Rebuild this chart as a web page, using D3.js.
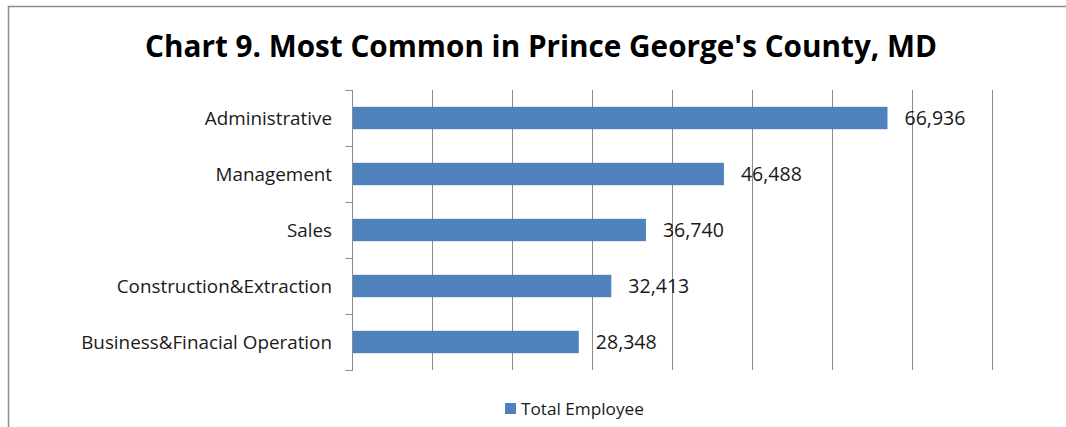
<!DOCTYPE html>
<html><head><meta charset="utf-8">
<script src="https://cdn.jsdelivr.net/npm/d3@7"></script>
<style>body{margin:0;background:#fff;} svg{display:block;font-family:"Open Sans",Lato,sans-serif;}</style>
</head><body>
<svg id="c" width="1066" height="427"></svg>
<script>
const categories = ["Administrative","Management","Sales","Construction&Extraction","Business&Finacial Operation"];
const values = [66936, 46488, 36740, 32413, 28348];
const xTicks = [0,10000,20000,30000,40000,50000,60000,70000,80000];
const seriesName = "Total Employee";
const title = "Chart 9. Most Common in Prince George's County, MD";

const svg = d3.select("#c");
// fit font size of a text node to a target width
function fit(sel, target){
  const n = sel.node(); const fs = parseFloat(sel.attr("font-size"));
  const w = n.getComputedTextLength();
  sel.attr("font-size", (fs*target/w).toFixed(2));
}

svg.append("path").attr("d","M8.5,427 L8.5,6.5 L1066,6.5").attr("fill","none").attr("stroke","#8c8c8c").attr("stroke-width",1.5);

const t = svg.append("text").attr("x",541).attr("y",57).attr("text-anchor","middle")
  .attr("font-size",29).attr("font-weight","bold").attr("fill","#000").text(title);
fit(t, 792);

const x = d3.scaleLinear().domain([0,80000]).range([352,992]);
const y = d3.scaleBand().domain(categories).range([90,370]).paddingInner(0.6).paddingOuter(0.3);

svg.append("g").selectAll("line").data(xTicks.slice(1)).join("line")
  .attr("x1",d=>Math.round(x(d))+0.5).attr("x2",d=>Math.round(x(d))+0.5)
  .attr("y1",90).attr("y2",370).attr("stroke","#8c8c8c").attr("stroke-width",1);

const yAxis = d3.axisLeft(d3.scaleLinear().domain([0,5]).range([90,370])).ticks(5).tickSize(7).tickFormat("");
const ga = svg.append("g").attr("transform","translate(352.5,0)").call(yAxis);
ga.selectAll("path,line").attr("stroke","#8c8c8c");
ga.select(".domain").attr("d","M-7,90.5H0V370.5H-7");

svg.append("g").selectAll("rect").data(values).join("rect")
  .attr("x",x(0)+1).attr("y",(d,i)=>y(categories[i]))
  .attr("width",d=>x(d)-x(0)-1).attr("height",y.bandwidth())
  .attr("fill","#4f81bd");

const cl = svg.append("g").selectAll("text").data(categories).join("text")
  .attr("x",332).attr("y",d=>y(d)+y.bandwidth()/2).attr("dy","0.35em")
  .attr("text-anchor","end").attr("font-size",17).attr("fill","#1a1a1a").text(d=>d);
// scale all category labels by the longest one
{
  const last = cl.filter((d,i)=>i===4); const w = last.node().getComputedTextLength();
  cl.attr("font-size",(17*251/w).toFixed(2));
}

const vl = svg.append("g").selectAll("text").data(values).join("text")
  .attr("x",d=>x(d)+17).attr("y",(d,i)=>y(categories[i])+y.bandwidth()/2).attr("dy","0.35em")
  .attr("font-size",17).attr("fill","#1a1a1a").text(d=>d3.format(",")(d));
{
  const w = vl.filter((d,i)=>i===0).node().getComputedTextLength();
  vl.attr("font-size",(17*61/w).toFixed(2));
}

svg.append("rect").attr("x",505).attr("y",403).attr("width",11).attr("height",11).attr("fill","#4f81bd");
const lt = svg.append("text").attr("x",521).attr("y",409).attr("dy","0.35em").attr("font-size",16).attr("fill","#1a1a1a").text(seriesName);
fit(lt, 123);
</script>
</body></html>
